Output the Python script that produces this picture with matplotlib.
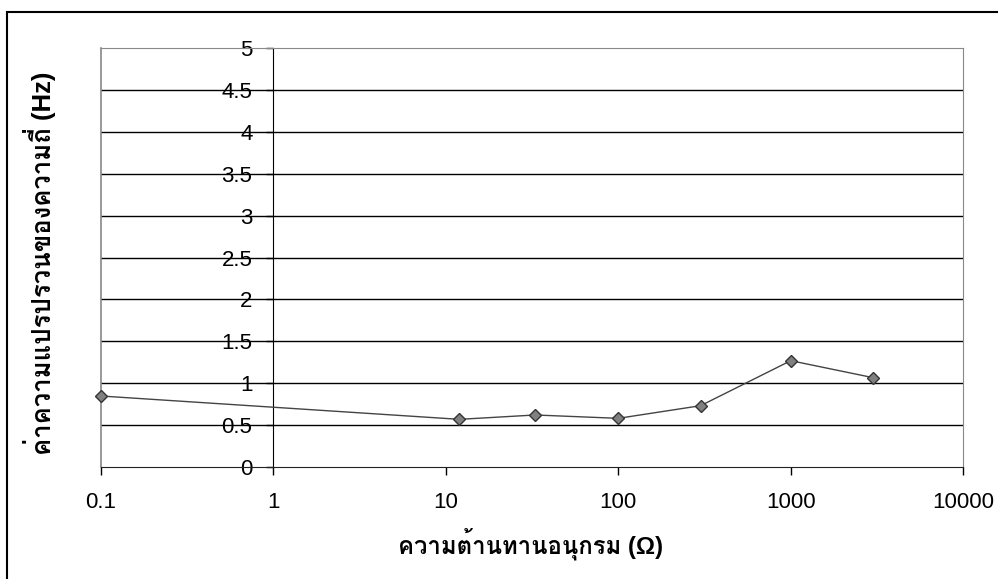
import matplotlib
matplotlib.use("Agg")
import matplotlib.pyplot as plt
from matplotlib import font_manager
from matplotlib.ft2font import FT2Font
from matplotlib.patches import Rectangle

# series resistance (ohm) vs. frequency variance (Hz)
resistance = [0.1, 12, 33, 100, 300, 1000, 3000]
variance = [0.845, 0.566, 0.618, 0.578, 0.729, 1.267, 1.064]

x_ticks = [0.1, 1, 10, 100, 1000, 10000]
x_ticklabels = ["0.1", "1", "10", "100", "1000", "10000"]
y_ticks = [0, 0.5, 1, 1.5, 2, 2.5, 3, 3.5, 4, 4.5, 5]
y_ticklabels = ["0", "0.5", "1", "1.5", "2", "2.5", "3", "3.5", "4", "4.5", "5"]

x_label = "ความต้านทานอนุกรม (Ω)"
y_label = "ค่าความแปรปรวนของความถี่ (Hz)"


def thai_families():
    names = []
    for f in font_manager.fontManager.ttflist:
        try:
            cmap = FT2Font(f.fname).get_charmap()
        except Exception:
            continue
        if 0x0E04 in cmap and f.name not in names:
            names.append(f.name)
    return names


thai = thai_families()
num_font = ["Liberation Sans", "DejaVu Sans"]
# Latin and Greek from Liberation, Thai glyphs fall through to a Thai family
label_font = ["Liberation Sans"] + thai + ["DejaVu Sans"]

fig = plt.figure(figsize=(9.98, 5.79), dpi=100)
ax = fig.add_axes([100.7 / 998, 1 - 466.7 / 579, (963.3 - 100.7) / 998, (466.7 - 48.3) / 579])

ax.set_xscale("log")
ax.set_xlim(0.1, 10000)
ax.set_ylim(0, 5)

# horizontal gridlines
for yv in y_ticks[1:-1]:
    ax.axhline(yv, color="black", lw=1, zorder=1)

ax.plot(resistance, variance, color="#444444", lw=1, marker="D", markersize=6.3,
        markerfacecolor="#808080", markeredgecolor="#333333", markeredgewidth=1,
        zorder=3, clip_on=False)

# value axis crosses at x = 1
ax.spines["left"].set_position(("data", 1))
ax.spines["left"].set_color("black")
ax.spines["bottom"].set_color("#222222")
ax.spines["top"].set_color("#888888")
ax.spines["right"].set_color("#888888")
ax.axvline(0.1, color="#888888", lw=1.2, zorder=2, clip_on=False)

ax.set_xticks(x_ticks)
ax.set_xticklabels(x_ticklabels, fontfamily=num_font, fontsize=16)
ax.xaxis.set_minor_locator(matplotlib.ticker.NullLocator())
ax.set_yticks(y_ticks)
ax.set_yticklabels(y_ticklabels, fontfamily=num_font, fontsize=16)
ax.tick_params(axis="x", direction="out", length=6, width=1, pad=12)
ax.tick_params(axis="y", direction="out", length=5, width=1, pad=10)

fig.text(531 / 998, 1 - 544 / 579, x_label, ha="center", va="center",
         fontsize=17.2, fontweight="bold", family=label_font)
fig.text(40 / 998, 1 - 263 / 579, y_label, ha="center", va="center",
         rotation=90, fontsize=18.5, fontweight="bold", family=label_font)

# outer chart border
fig.patches.append(Rectangle((7 / 998, -0.1), 1.2, 1.1 - 12 / 579, transform=fig.transFigure,
                             fill=False, ec="black", lw=1.5))

fig.savefig("out.png", dpi=100)
